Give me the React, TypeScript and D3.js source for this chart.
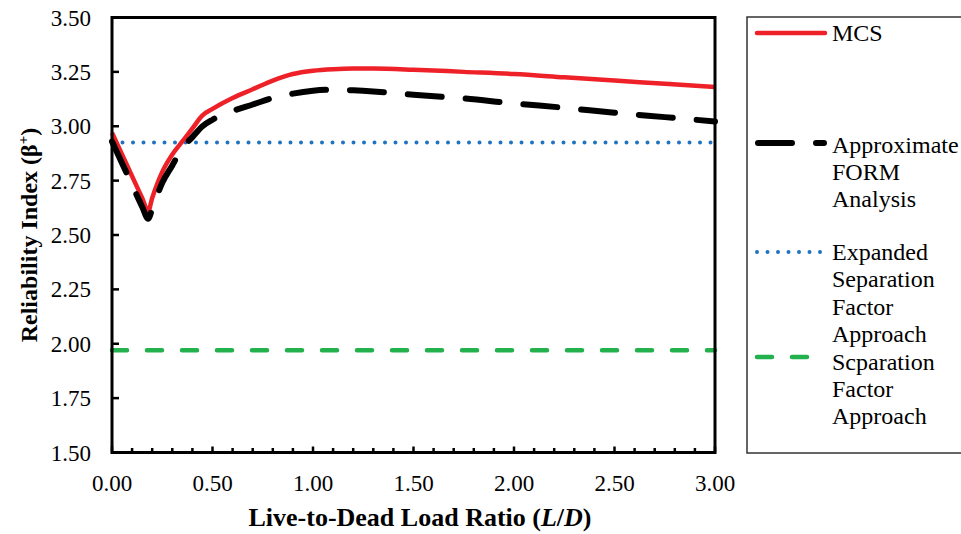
import React from "react";
import * as d3 from "d3";

const xValues = [0, 0.05, 0.1, 0.15, 0.18, 0.2, 0.25, 0.3, 0.35, 0.4, 0.45, 0.5, 0.6, 0.7, 0.8, 0.9, 1.0, 1.1, 1.2, 1.3, 1.5, 1.75, 2.0, 2.25, 2.5, 2.75, 3.0];
const mcsValues = [2.97, 2.87, 2.77, 2.67, 2.61, 2.67, 2.79, 2.87, 2.93, 2.99, 3.05, 3.08, 3.13, 3.17, 3.21, 3.24, 3.255, 3.262, 3.265, 3.265, 3.26, 3.25, 3.24, 3.225, 3.21, 3.195, 3.18];
const formValues = [2.93, 2.83, 2.73, 2.63, 2.575, 2.62, 2.74, 2.82, 2.9, 2.95, 3.0, 3.03, 3.07, 3.1, 3.13, 3.15, 3.163, 3.168, 3.165, 3.16, 3.145, 3.128, 3.105, 3.085, 3.062, 3.042, 3.022];
const expandedSF = 2.925;
const separationSF = 1.97;
const xTicks = [0, 0.5, 1.0, 1.5, 2.0, 2.5, 3.0];
const xMinorTicks = d3.range(0, 31).map((i) => i / 10);
const yTicks = [1.5, 1.75, 2.0, 2.25, 2.5, 2.75, 3.0, 3.25, 3.5];
const legendItems = [
  { lines: ["MCS"], key: "mcs" },
  { lines: ["Approximate", "FORM", "Analysis"], key: "form" },
  { lines: ["Expanded", "Separation", "Factor", "Approach"], key: "esf" },
  { lines: ["Scparation", "Factor", "Approach"], key: "sf" },
];

const W = 961, H = 534;
const L = 112, R = 715, T = 17.5, B = 452.5;
const FONT = "'Liberation Serif', 'Times New Roman', serif";

export default function App() {
  const x = d3.scaleLinear().domain([0, 3]).range([L, R]);
  const y = d3.scaleLinear().domain([1.5, 3.5]).range([B, T]);
  const line = d3
    .line<number>()
    .x((_, i) => x(xValues[i]))
    .y((d) => y(d))
    .curve(d3.curveMonotoneX);

  const legendY = [33, 143, 252, 357];
  const textY = [[41], [153, 180, 207], [260, 287, 315, 342], [370, 397, 424]];

  return (
    <svg width={W} height={H} style={{ position: "absolute", left: 0, top: 0, background: "#fff" }} fontFamily={FONT}>
      <rect x={0} y={0} width={W} height={H} fill="#fff" />
      {/* series */}
      <line x1={x(0)} x2={x(3)} y1={y(separationSF)} y2={y(separationSF)} stroke="#22b14c" strokeWidth={4.5} strokeDasharray="15,20" strokeLinecap="round" />
      <line x1={x(0)} x2={x(3)} y1={y(expandedSF)} y2={y(expandedSF)} stroke="#1f73c0" strokeWidth={4} strokeDasharray="0,10.5" strokeLinecap="round" />
      <path d={line(mcsValues) || ""} fill="none" stroke="#ee2128" strokeWidth={4.5} strokeLinejoin="round" />
      <path d={line(formValues) || ""} fill="none" stroke="#000" strokeWidth={6} strokeDasharray="34,24" strokeLinecap="round" strokeLinejoin="round" />

      {/* frame */}
      <rect x={L} y={T} width={R - L} height={B - T} fill="none" stroke="#000" strokeWidth={3} />
      {yTicks.map((t) => (
        <line key={"yt" + t} x1={L} x2={L + 7} y1={y(t)} y2={y(t)} stroke="#000" strokeWidth={2.5} />
      ))}
      {xMinorTicks.map((t, i) => (
        <line key={"xt" + i} x1={x(t)} x2={x(t)} y1={B} y2={B - (i % 5 === 0 ? 6 : 4.5)} stroke="#000" strokeWidth={2.5} />
      ))}

      {/* tick labels */}
      {yTicks.map((t) => (
        <text key={"yl" + t} x={91} y={y(t) + 8} textAnchor="end" fontSize={23} fill="#000">
          {t.toFixed(2)}
        </text>
      ))}
      {xTicks.map((t) => (
        <text key={"xl" + t} x={x(t)} y={491} textAnchor="middle" fontSize={23} fill="#000">
          {t.toFixed(2)}
        </text>
      ))}

      {/* axis titles */}
      <text x={420} y={526} textAnchor="middle" fontSize={26} fontWeight="bold" fill="#000">
        Live-to-Dead Load Ratio (<tspan fontStyle="italic">L</tspan>/<tspan fontStyle="italic">D</tspan>)
      </text>
      <text transform={`translate(37,235) rotate(-90)`} textAnchor="middle" fontSize={24} fontWeight="bold" fill="#000">
        Reliability Index (β<tspan dy={-9} fontSize={15}>+</tspan><tspan dy={9}>)</tspan>
      </text>

      {/* legend */}
      <rect x={747} y={17} width={230} height={436} fill="none" stroke="#333" strokeWidth={1.5} />
      <line x1={757} x2={825} y1={legendY[0]} y2={legendY[0]} stroke="#ee2128" strokeWidth={4.5} strokeLinecap="round" />
      <line x1={758} x2={824} y1={legendY[1]} y2={legendY[1]} stroke="#000" strokeWidth={6} strokeDasharray="34,24" strokeLinecap="round" />
      <line x1={757} x2={823} y1={legendY[2]} y2={legendY[2]} stroke="#1f73c0" strokeWidth={4} strokeDasharray="0,10.5" strokeLinecap="round" />
      <line x1={757} x2={810} y1={legendY[3]} y2={legendY[3]} stroke="#22b14c" strokeWidth={4.5} strokeDasharray="15,20" strokeLinecap="round" />
      {legendItems.map((item, gi) =>
        item.lines.map((s, li) => (
          <text key={item.key + li} x={832} y={textY[gi][li]} fontSize={24} fill="#000">
            {s}
          </text>
        ))
      )}
    </svg>
  );
}
